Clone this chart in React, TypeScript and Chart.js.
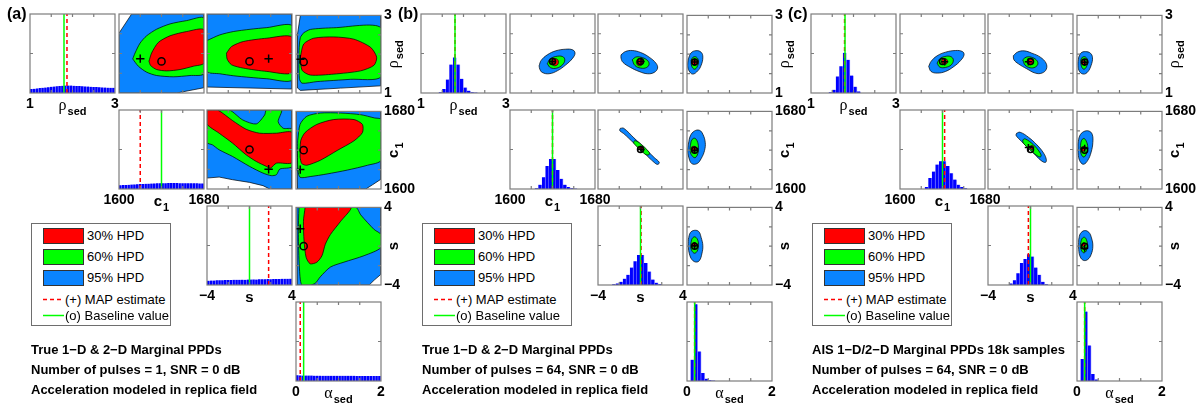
import React, { useEffect, useRef } from 'react';
import { Chart, registerables } from 'chart.js';

Chart.register(...registerables);

// ---------------- parameters ----------------
const PARAM_MIN = [1, 1600, -4, 0];
const PARAM_MAX = [3, 1680, 4, 2];
const PARAM_MINOR = [[1.5, 2, 2.5], [1620, 1640, 1660], [-2, 0, 2], [0.5, 1, 1.5]];
const PARAM_NAME = ['ρ', 'c', 's', 'α'];
const PARAM_SUB = ['sed', '1', '', 'sed'];
const PARAM_GREEK = [true, false, false, true];

const BASELINE = [1.8, 1640, 0, 0.18];
const MAP_A = [1.87, 1620, 1.8, 0.1];
const MAP_B = [1.8, 1640, 0.05, 0.18];
const MAP_C = [1.79, 1642, -0.2, 0.18];

// ---------------- 1-D histograms (fraction of panel height) ----------------
const HIST_A_RHO = [0.050, 0.054, 0.058, 0.062, 0.066, 0.070, 0.074, 0.078, 0.082, 0.086, 0.089, 0.092, 0.094, 0.095, 0.094, 0.092, 0.090, 0.088, 0.085, 0.083, 0.081, 0.079, 0.077, 0.075, 0.073, 0.071, 0.069, 0.068, 0.066, 0.065];
const HIST_A_C1 = [0.048, 0.050, 0.052, 0.054, 0.056, 0.058, 0.060, 0.062, 0.064, 0.066, 0.068, 0.070, 0.071, 0.072, 0.073, 0.074, 0.074, 0.075, 0.075, 0.075, 0.075, 0.074, 0.074, 0.074, 0.073, 0.073, 0.072, 0.072, 0.071, 0.071];
const HIST_A_S = [0.055, 0.057, 0.056, 0.059, 0.060, 0.059, 0.062, 0.063, 0.062, 0.065, 0.066, 0.065, 0.068, 0.067, 0.069, 0.070, 0.071, 0.070, 0.073, 0.072, 0.074, 0.075, 0.074, 0.076, 0.077, 0.076, 0.078, 0.079, 0.078, 0.080];
const HIST_A_AL = [0.072, 0.071, 0.070, 0.070, 0.069, 0.069, 0.068, 0.068, 0.068, 0.067, 0.067, 0.067, 0.066, 0.066, 0.066, 0.066, 0.065, 0.065, 0.065, 0.065, 0.065, 0.064, 0.064, 0.064, 0.064, 0.064, 0.064, 0.063, 0.063, 0.063];

const HIST_B_RHO = [0, 0, 0, 0, 0, 0.01, 0.05, 0.17, 0.36, 0.45, 0.36, 0.18, 0.07, 0.03, 0.01, 0.005, 0, 0, 0, 0, 0, 0, 0, 0];
const HIST_B_C1 = [0, 0, 0, 0, 0, 0, 0, 0.01, 0.055, 0.15, 0.29, 0.38, 0.38, 0.24, 0.13, 0.055, 0.025, 0.01, 0.005, 0, 0, 0, 0, 0];
const HIST_B_S = [0, 0, 0, 0, 0.01, 0.02, 0.04, 0.08, 0.13, 0.22, 0.30, 0.38, 0.38, 0.28, 0.17, 0.07, 0.03, 0.01, 0, 0, 0, 0, 0, 0];
const HIST_B_AL = [0, 0.27, 0.97, 0.375, 0.10, 0.03, 0.01, 0.005, 0, 0, 0, 0, 0, 0, 0, 0, 0, 0, 0, 0, 0, 0, 0, 0];

const HIST_C_RHO = [0, 0, 0, 0, 0, 0.01, 0.04, 0.21, 0.34, 0.51, 0.42, 0.22, 0.08, 0.02, 0, 0, 0, 0, 0, 0, 0, 0, 0, 0];
const HIST_C_C1 = [0, 0, 0, 0, 0, 0, 0, 0.025, 0.14, 0.22, 0.31, 0.35, 0.35, 0.29, 0.20, 0.12, 0.055, 0.025, 0.01, 0, 0, 0, 0, 0];
const HIST_C_S = [0, 0, 0, 0, 0, 0, 0.02, 0.06, 0.15, 0.28, 0.33, 0.39, 0.36, 0.22, 0.13, 0.04, 0.01, 0, 0, 0, 0, 0, 0, 0];
const HIST_C_AL = [0, 0.28, 0.88, 0.45, 0.09, 0.02, 0, 0, 0, 0, 0, 0, 0, 0, 0, 0, 0, 0, 0, 0, 0, 0, 0, 0];

// ---------------- 2-D HPD contours [x, y] ----------------
// panel (a)
const A_C1_RHO_95 = [[1600, 1], [1600, 2.515], [1611.9, 3], [1680, 3], [1680, 1.134], [1654.3, 1], [1600, 1]];
const A_C1_RHO_60 = [[1612.9, 1.862], [1615.1, 2.012], [1619.8, 2.263], [1626.0, 2.448], [1635.4, 2.615], [1648.0, 2.749], [1663.7, 2.833], [1680, 2.891], [1680, 1.493], [1666.8, 1.443], [1651.1, 1.410], [1635.4, 1.443], [1626.0, 1.527], [1618.2, 1.678], [1612.9, 1.862]];
const A_C1_RHO_30 = [[1628.2, 1.803], [1630.7, 2.012], [1637.0, 2.280], [1648.0, 2.448], [1663.7, 2.556], [1680, 2.598], [1680, 1.761], [1670.0, 1.678], [1657.4, 1.594], [1644.9, 1.560], [1635.4, 1.594], [1629.8, 1.694], [1628.2, 1.803]];

const A_S_RHO_95 = [[-4, 1.151], [-4, 3], [4, 3], [4, 1.101], [-4, 1.151]];
const A_S_RHO_60 = [[-4, 2.328], [-2.80, 2.471], [-1.53, 2.555], [0.05, 2.613], [1.63, 2.655], [4, 2.697], [4, 1.336], [1.63, 1.361], [0.05, 1.395], [-1.53, 1.437], [-2.80, 1.487], [-4, 1.546], [-4, 2.328]];
const A_S_RHO_30 = [[-2.166, 2.008], [-1.69, 2.176], [-0.585, 2.303], [1.63, 2.387], [4, 2.412], [4, 1.521], [1.63, 1.546], [-0.585, 1.630], [-1.69, 1.714], [-2.10, 1.857], [-2.166, 2.008]];

const A_AL_RHO_95 = [[0.102, 3], [2, 3], [2, 1.185], [1.047, 1.126], [0.102, 1.067], [0.039, 1.126], [0.024, 2.092], [0.047, 2.513], [0.102, 3]];
const A_AL_RHO_60 = [[0.181, 2.555], [0.339, 2.639], [0.890, 2.681], [2, 2.681], [2, 1.420], [1.283, 1.353], [0.496, 1.294], [0.142, 1.252], [0.079, 1.378], [0.071, 2.092], [0.102, 2.429], [0.181, 2.555]];
const A_AL_RHO_30 = [[0.102, 1.924], [0.181, 2.261], [0.417, 2.412], [0.890, 2.445], [1.362, 2.387], [1.756, 2.176], [1.898, 1.924], [1.835, 1.714], [1.520, 1.571], [0.890, 1.487], [0.339, 1.462], [0.142, 1.588], [0.102, 1.924]];

const A_S_C1_95 = [[-4, 1680], [4, 1680], [4, 1600], [1.905, 1600], [1.27, 1603.4], [0, 1606.7], [-1.587, 1609.4], [-2.857, 1612.1], [-4, 1611.1], [-4, 1680]];
const A_S_C1_60 = [[-4, 1680], [-1.905, 1680], [-0.635, 1669.9], [0.635, 1665.9], [1.429, 1675.0], [1.587, 1680], [3.016, 1680], [2.698, 1668.2], [3.175, 1661.5], [4, 1660.5], [4, 1622.9], [2.857, 1620.2], [2.54, 1614.5], [2.064, 1613.5], [1.27, 1616.1], [0, 1622.9], [-1.587, 1632.9], [-2.857, 1639.7], [-3.492, 1644.7], [-4, 1647.1], [-4, 1680]];
const A_S_C1_30 = [[-4, 1680], [-3.016, 1680], [-1.587, 1669.2], [-0.317, 1660.5], [0.952, 1656.5], [2.54, 1656.5], [4, 1657.1], [4, 1626.9], [2.54, 1626.2], [1.968, 1621.2], [1.587, 1622.9], [0.635, 1627.9], [-0.317, 1634.6], [-1.587, 1646.4], [-2.857, 1656.5], [-4, 1665.9], [-4, 1680]];

const A_AL_C1_95 = [[0.01, 1680], [2, 1680], [2, 1610.1], [1.802, 1604.4], [1.643, 1600], [0.035, 1600], [0.02, 1640], [0.01, 1680]];
const A_AL_C1_60 = [[0.040, 1649.7], [0.095, 1666.6], [0.254, 1675.0], [0.571, 1678.3], [1.048, 1678.3], [1.524, 1676.6], [1.841, 1673.3], [2, 1671.6], [2, 1629.6], [1.683, 1624.5], [1.206, 1619.5], [0.730, 1615.5], [0.333, 1612.8], [0.095, 1612.1], [0.040, 1622.9], [0.040, 1649.7]];
const A_AL_C1_30 = [[0.095, 1632.9], [0.111, 1649.7], [0.214, 1658.2], [0.492, 1666.6], [0.889, 1671.6], [1.365, 1671.6], [1.563, 1666.6], [1.563, 1658.2], [1.365, 1649.7], [0.968, 1639.7], [0.571, 1629.6], [0.254, 1624.5], [0.135, 1626.2], [0.095, 1632.9]];

const A_AL_S_95 = [[0.02, 4], [2, 4], [2, -2.89], [1.841, -3.495], [1.722, -4], [0.03, -4], [0.02, 4]];
const A_AL_S_60 = [[0.095, 4], [1.405, 4], [1.524, 3.227], [1.841, 1.714], [2, 1.210], [2, -0.134], [1.603, -0.975], [1.127, -1.647], [0.810, -2.151], [0.571, -3.159], [0.452, -3.831], [0.333, -4], [0.135, -4], [0.079, -2.151], [0.056, 1.210], [0.071, 4], [0.095, 4]];
const A_AL_S_30 = [[0.214, 4], [1.286, 4], [1.048, 2.555], [0.810, 1.210], [0.690, 0.202], [0.611, -0.975], [0.492, -1.647], [0.333, -1.815], [0.238, -1.143], [0.190, 0.538], [0.175, 2.555], [0.214, 4]];

// panel (b)
const B_C1_RHO_95 = [[1627.4, 1.689], [1629.3, 1.824], [1635.1, 1.966], [1643.0, 2.067], [1652.6, 2.109], [1659.0, 2.092], [1661.2, 2.008], [1659.0, 1.882], [1652.6, 1.714], [1644.6, 1.563], [1636.7, 1.487], [1630.3, 1.521], [1628.0, 1.605], [1627.4, 1.689]];
const B_C1_RHO_60 = [[1635.1, 1.740], [1637.6, 1.857], [1643.0, 1.924], [1649.4, 1.924], [1651.6, 1.840], [1649.4, 1.714], [1644.0, 1.630], [1638.2, 1.639], [1635.1, 1.740]];
const B_C1_RHO_30 = [[1638.9, 1.782], [1639.8, 1.849], [1642.1, 1.874], [1644.6, 1.849], [1645.6, 1.782], [1644.6, 1.714], [1642.1, 1.689], [1639.8, 1.714], [1638.9, 1.782]];

const B_S_RHO_95 = [[-1.833, 1.966], [-1.418, 2.050], [-0.781, 2.076], [0.016, 2.025], [0.812, 1.908], [1.450, 1.756], [1.609, 1.630], [1.290, 1.521], [0.653, 1.487], [-0.144, 1.546], [-0.940, 1.647], [-1.642, 1.773], [-1.833, 1.882], [-1.833, 1.966]];
const B_S_RHO_60 = [[-0.781, 1.840], [-0.462, 1.908], [0.016, 1.908], [0.590, 1.840], [0.812, 1.739], [0.590, 1.647], [0.016, 1.630], [-0.526, 1.697], [-0.781, 1.840]];
const B_S_RHO_30 = [[-0.398, 1.782], [-0.303, 1.849], [-0.080, 1.874], [0.143, 1.849], [0.239, 1.782], [0.143, 1.714], [-0.080, 1.689], [-0.303, 1.714], [-0.398, 1.782]];

const B_AL_RHO_95 = [[0.032, 1.882], [0.095, 2.034], [0.214, 2.092], [0.333, 2.050], [0.373, 1.924], [0.333, 1.714], [0.254, 1.571], [0.135, 1.487], [0.048, 1.571], [0.016, 1.714], [0.032, 1.882]];
const B_AL_RHO_60 = [[0.095, 1.840], [0.143, 1.924], [0.222, 1.924], [0.270, 1.824], [0.238, 1.672], [0.175, 1.613], [0.111, 1.689], [0.095, 1.840]];
const B_AL_RHO_30 = [[0.111, 1.782], [0.127, 1.832], [0.175, 1.849], [0.222, 1.832], [0.238, 1.782], [0.222, 1.731], [0.175, 1.714], [0.127, 1.731], [0.111, 1.782]];

const B_S_C1_95 = [[-1.897, 1661.5], [-1.578, 1661.5], [-0.622, 1651.8], [0.334, 1642.0], [1.290, 1631.9], [1.769, 1626.9], [1.609, 1624.9], [1.290, 1626.9], [0.334, 1636.6], [-0.622, 1646.4], [-1.578, 1656.1], [-1.960, 1659.2], [-1.897, 1661.5]];
const B_S_C1_60 = [[-0.526, 1649.1], [-0.144, 1647.1], [0.812, 1637.3], [0.781, 1634.6], [0.430, 1635.3], [-0.526, 1645.0], [-0.654, 1647.4], [-0.526, 1649.1]];
const B_S_C1_30 = [[-0.112, 1641.3], [-0.048, 1643.0], [0.079, 1643.4], [0.207, 1643.0], [0.271, 1641.3], [0.207, 1639.7], [0.079, 1639.3], [-0.048, 1639.7], [-0.112, 1641.3]];

const B_AL_C1_95 = [[0.032, 1646.4], [0.079, 1654.8], [0.175, 1659.8], [0.294, 1660.5], [0.373, 1656.5], [0.429, 1648.1], [0.413, 1639.7], [0.333, 1631.3], [0.238, 1626.2], [0.111, 1626.2], [0.040, 1632.9], [0.016, 1639.7], [0.032, 1646.4]];
const B_AL_C1_60 = [[0.079, 1644.7], [0.111, 1650.4], [0.175, 1652.4], [0.238, 1649.7], [0.270, 1643.0], [0.254, 1636.3], [0.190, 1632.3], [0.111, 1634.6], [0.071, 1639.7], [0.079, 1644.7]];
const B_AL_C1_30 = [[0.095, 1641.3], [0.111, 1643.4], [0.159, 1644.0], [0.206, 1643.4], [0.222, 1641.3], [0.206, 1639.3], [0.159, 1638.7], [0.111, 1639.3], [0.095, 1641.3]];

const B_AL_S_95 = [[0.032, 0.725], [0.079, 1.400], [0.175, 1.637], [0.278, 1.502], [0.333, 0.894], [0.373, 0.050], [0.349, -0.794], [0.294, -1.469], [0.214, -1.638], [0.119, -1.402], [0.056, -0.794], [0.032, -0.119], [0.032, 0.725]];
const B_AL_S_60 = [[0.095, 0.388], [0.127, 0.827], [0.190, 0.962], [0.254, 0.624], [0.270, 0.050], [0.238, -0.524], [0.175, -0.726], [0.111, -0.456], [0.087, -0.051], [0.095, 0.388]];
const B_AL_S_30 = [[0.111, 0.151], [0.127, 0.320], [0.167, 0.388], [0.206, 0.320], [0.222, 0.151], [0.206, -0.017], [0.167, -0.085], [0.127, -0.017], [0.111, 0.151]];

// panel (c)
const C_C1_RHO_95 = [[1627.0, 1.672], [1629.2, 1.798], [1634.9, 1.941], [1642.9, 2.034], [1652.4, 2.076], [1658.7, 2.050], [1660.3, 1.966], [1657.1, 1.824], [1650.8, 1.672], [1642.9, 1.546], [1634.9, 1.504], [1629.2, 1.546], [1627.0, 1.672]];
const C_C1_RHO_60 = [[1634.9, 1.756], [1637.5, 1.866], [1642.2, 1.924], [1647.6, 1.924], [1650.2, 1.840], [1648.3, 1.714], [1642.9, 1.647], [1637.5, 1.655], [1634.9, 1.756]];
const C_C1_RHO_30 = [[1639.0, 1.798], [1640.0, 1.857], [1641.9, 1.874], [1643.8, 1.857], [1644.8, 1.798], [1643.8, 1.739], [1641.9, 1.723], [1640.0, 1.739], [1639.0, 1.798]];

const C_S_RHO_95 = [[-1.619, 1.941], [-1.238, 2.034], [-0.603, 2.067], [0.127, 2.008], [0.921, 1.908], [1.461, 1.756], [1.492, 1.605], [1.08, 1.504], [0.445, 1.504], [-0.349, 1.613], [-1.143, 1.739], [-1.556, 1.840], [-1.619, 1.941]];
const C_S_RHO_60 = [[-0.730, 1.840], [-0.413, 1.908], [0.064, 1.908], [0.540, 1.840], [0.698, 1.739], [0.445, 1.655], [-0.032, 1.639], [-0.508, 1.706], [-0.730, 1.840]];
const C_S_RHO_30 = [[-0.317, 1.790], [-0.222, 1.849], [-0.032, 1.866], [0.159, 1.849], [0.254, 1.790], [0.159, 1.731], [-0.032, 1.714], [-0.222, 1.731], [-0.317, 1.790]];

const C_AL_RHO_95 = [[0.040, 1.924], [0.095, 2.034], [0.198, 2.067], [0.317, 2.025], [0.365, 1.908], [0.333, 1.714], [0.254, 1.546], [0.159, 1.487], [0.063, 1.546], [0.024, 1.714], [0.040, 1.924]];
const C_AL_RHO_60 = [[0.087, 1.840], [0.127, 1.924], [0.206, 1.924], [0.254, 1.824], [0.222, 1.672], [0.159, 1.613], [0.103, 1.689], [0.087, 1.840]];
const C_AL_RHO_30 = [[0.103, 1.782], [0.119, 1.824], [0.159, 1.840], [0.198, 1.824], [0.214, 1.782], [0.198, 1.739], [0.159, 1.723], [0.119, 1.739], [0.103, 1.782]];

const C_S_C1_95 = [[-1.302, 1656.5], [-0.984, 1657.5], [-0.19, 1652.4], [0.603, 1644.7], [1.238, 1636.3], [1.492, 1629.6], [1.397, 1626.9], [0.984, 1628.9], [0.286, 1636.3], [-0.508, 1644.7], [-1.143, 1651.4], [-1.365, 1654.5], [-1.302, 1656.5]];
const C_S_C1_60 = [[-0.730, 1649.7], [-0.508, 1650.8], [0.286, 1644.7], [0.921, 1636.3], [0.984, 1632.9], [0.730, 1632.9], [-0.032, 1639.7], [-0.667, 1646.4], [-0.730, 1649.7]];
const C_S_C1_30 = [[-0.063, 1642.0], [0, 1643.4], [0.127, 1644.0], [0.254, 1643.4], [0.317, 1642.0], [0.254, 1640.7], [0.127, 1640.0], [0, 1640.7], [-0.063, 1642.0]];

const C_AL_C1_95 = [[0.024, 1646.4], [0.063, 1654.8], [0.159, 1659.2], [0.278, 1659.8], [0.357, 1656.5], [0.373, 1648.1], [0.333, 1638.0], [0.254, 1629.6], [0.159, 1625.5], [0.079, 1627.9], [0.032, 1634.6], [0.024, 1646.4]];
const C_AL_C1_60 = [[0.079, 1643.0], [0.103, 1649.7], [0.159, 1652.1], [0.214, 1649.7], [0.254, 1643.0], [0.222, 1636.3], [0.159, 1632.9], [0.095, 1636.3], [0.079, 1643.0]];
const C_AL_C1_30 = [[0.087, 1641.3], [0.103, 1643.0], [0.143, 1643.7], [0.183, 1643.0], [0.198, 1641.3], [0.183, 1639.7], [0.143, 1639.0], [0.103, 1639.7], [0.087, 1641.3]];

const C_AL_S_95 = [[0.040, 0.684], [0.079, 1.299], [0.175, 1.607], [0.278, 1.436], [0.341, 0.855], [0.373, 0], [0.333, -0.855], [0.254, -1.368], [0.159, -1.470], [0.079, -1.129], [0.040, -0.342], [0.040, 0.684]];
const C_AL_S_60 = [[0.087, 0.342], [0.119, 0.786], [0.175, 0.923], [0.222, 0.684], [0.246, 0.171], [0.222, -0.445], [0.159, -0.684], [0.103, -0.411], [0.079, 0], [0.087, 0.342]];
const C_AL_S_30 = [[0.111, 0.171], [0.127, 0.305], [0.159, 0.376], [0.190, 0.305], [0.206, 0.171], [0.190, 0.034], [0.159, -0.034], [0.127, 0.034], [0.111, 0.171]];

// ---------------- text ----------------
const PANEL_LETTERS = ['(a)', '(b)', '(c)'];
const CAPTIONS_A = ['True 1−D & 2−D Marginal PPDs', 'Number of pulses = 1, SNR = 0 dB', 'Acceleration modeled in replica field'];
const CAPTIONS_B = ['True 1−D & 2−D Marginal PPDs', 'Number of pulses = 64, SNR = 0 dB', 'Acceleration modeled in replica field'];
const CAPTIONS_C = ['AIS 1−D/2−D Marginal PPDs 18k samples', 'Number of pulses = 64, SNR = 0 dB', 'Acceleration modeled in replica field'];
const LEGEND_LEVELS = ['30% HPD', '60% HPD', '95% HPD'];
const LEGEND_MAP = '(+) MAP estimate';
const LEGEND_BASE = '(o) Baseline value';

// ---------------- styling / layout ----------------
const LEVEL_COLORS = ['#0a84ff', '#00ff00', '#ff0000']; // 95, 60, 30
const HIST_COLOR = '#0000ff';
const FRAME_COLOR = '#7c7c7c';
const FONT_FAMILY = '"Liberation Sans", Arial, Helvetica, sans-serif';

const PANEL_OFFSETS = [0, 391, 781];
const COL_LEFT = [30, 119, 207, 296];
const ROW_TOP = [14, 110, 206, 302];
const BOX_W = 85;
const BOX_H = 79;
const ML = 22, MR = 46, MT = 10, MB = 32;
const CW = ML + BOX_W + MR;
const CH = MT + BOX_H + MB;
const X_AXIS_H = 24;
const Y_AXIS_W = 38;

const PANELS = [
  {
    hists: [HIST_A_RHO, HIST_A_C1, HIST_A_S, HIST_A_AL], map: MAP_A, tension: 0.25, outerTension: 0, marker: 3.6,
    contours: { '01': [A_C1_RHO_95, A_C1_RHO_60, A_C1_RHO_30], '02': [A_S_RHO_95, A_S_RHO_60, A_S_RHO_30], '03': [A_AL_RHO_95, A_AL_RHO_60, A_AL_RHO_30], '12': [A_S_C1_95, A_S_C1_60, A_S_C1_30], '13': [A_AL_C1_95, A_AL_C1_60, A_AL_C1_30], '23': [A_AL_S_95, A_AL_S_60, A_AL_S_30] },
    captions: CAPTIONS_A, legendWidth: 140,
  },
  {
    hists: [HIST_B_RHO, HIST_B_C1, HIST_B_S, HIST_B_AL], map: MAP_B, tension: 0.4, outerTension: 0.4, marker: 3,
    contours: { '01': [B_C1_RHO_95, B_C1_RHO_60, B_C1_RHO_30], '02': [B_S_RHO_95, B_S_RHO_60, B_S_RHO_30], '03': [B_AL_RHO_95, B_AL_RHO_60, B_AL_RHO_30], '12': [B_S_C1_95, B_S_C1_60, B_S_C1_30], '13': [B_AL_C1_95, B_AL_C1_60, B_AL_C1_30], '23': [B_AL_S_95, B_AL_S_60, B_AL_S_30] },
    captions: CAPTIONS_B, legendWidth: 150,
  },
  {
    hists: [HIST_C_RHO, HIST_C_C1, HIST_C_S, HIST_C_AL], map: MAP_C, tension: 0.4, outerTension: 0.4, marker: 3,
    contours: { '01': [C_C1_RHO_95, C_C1_RHO_60, C_C1_RHO_30], '02': [C_S_RHO_95, C_S_RHO_60, C_S_RHO_30], '03': [C_AL_RHO_95, C_AL_RHO_60, C_AL_RHO_30], '12': [C_S_C1_95, C_S_C1_60, C_S_C1_30], '13': [C_AL_C1_95, C_AL_C1_60, C_AL_C1_30], '23': [C_AL_S_95, C_AL_S_60, C_AL_S_30] },
    captions: CAPTIONS_C, legendWidth: 140,
  },
];

function fmtTick(v: number) {
  return v < 0 ? '\u2212' + Math.abs(v) : String(v);
}

function drawComposite(ctx: CanvasRenderingContext2D, k: number, cx: number, baseline: number) {
  const mainFont = PARAM_GREEK[k] ? '16px "Liberation Serif", "Times New Roman", serif' : `bold 15px ${FONT_FAMILY}`;
  const subFont = `bold 11px ${FONT_FAMILY}`;
  ctx.font = mainFont;
  const mw = ctx.measureText(PARAM_NAME[k]).width;
  ctx.font = subFont;
  const sw = PARAM_SUB[k] ? ctx.measureText(PARAM_SUB[k]).width + 1 : 0;
  const x0 = cx - (mw + sw) / 2;
  ctx.fillStyle = '#000';
  ctx.textAlign = 'left';
  ctx.textBaseline = 'alphabetic';
  ctx.font = mainFont;
  ctx.fillText(PARAM_NAME[k], x0, baseline);
  if (PARAM_SUB[k]) {
    ctx.font = subFont;
    ctx.fillText(PARAM_SUB[k], x0 + mw + 1, baseline + 5);
  }
}

function makeFramePlugin(xTicks: number[], yTicks: number[], xTitle: number, yTitle: number) {
  return {
    id: 'frame',
    afterDraw(chart: any) {
      const { ctx, chartArea: a, scales } = chart;
      ctx.save();
      ctx.strokeStyle = FRAME_COLOR;
      ctx.lineWidth = 1.2;
      ctx.beginPath();
      for (const v of xTicks) {
        const px = scales.x.getPixelForValue(v);
        ctx.moveTo(px, a.bottom); ctx.lineTo(px, a.bottom - 3);
        ctx.moveTo(px, a.top); ctx.lineTo(px, a.top + 3);
      }
      for (const v of yTicks) {
        const py = scales.y.getPixelForValue(v);
        ctx.moveTo(a.left, py); ctx.lineTo(a.left + 3, py);
        ctx.moveTo(a.right, py); ctx.lineTo(a.right - 3, py);
      }
      ctx.stroke();
      ctx.strokeRect(a.left, a.top, a.right - a.left, a.bottom - a.top);
      if (xTitle >= 0) drawComposite(ctx, xTitle, (a.left + a.right) / 2, a.bottom + 17);
      if (yTitle >= 0) {
        ctx.translate(a.right + 17, (a.top + a.bottom) / 2);
        ctx.rotate(-Math.PI / 2);
        drawComposite(ctx, yTitle, 0, 0);
      }
      ctx.restore();
    },
  };
}

function axisTicks(font: any) {
  return { font, color: '#000', padding: 3, maxRotation: 0, minRotation: 0, autoSkip: false, callback: (v: any) => fmtTick(Number(v)) };
}

function buildConfig(p: number, i: number, j: number) {
  const panel = PANELS[p];
  const isHist = i === j;
  const showX = isHist;
  const showY = !isHist && j === 3;
  const tickFont = { family: FONT_FAMILY, size: 14, weight: 'bold' };

  const xScale: any = {
    type: 'linear', min: PARAM_MIN[j], max: PARAM_MAX[j], offset: false, display: showX, position: 'bottom',
    grid: { display: false, drawTicks: false, offset: false }, border: { display: false },
    ticks: axisTicks(tickFont),
    afterBuildTicks: (s: any) => { s.ticks = [{ value: s.min }, { value: s.max }]; },
  };
  if (showX) xScale.afterFit = (s: any) => { s.height = X_AXIS_H; };

  const yScale: any = {
    type: 'linear', min: isHist ? 0 : PARAM_MIN[i], max: isHist ? 1 : PARAM_MAX[i], display: showY, position: 'right',
    grid: { display: false, drawTicks: false }, border: { display: false },
    ticks: axisTicks(tickFont),
    afterBuildTicks: (s: any) => { s.ticks = [{ value: s.min }, { value: s.max }]; },
  };
  if (showY) yScale.afterFit = (s: any) => { s.width = Y_AXIS_W; };

  let datasets: any[] = [];
  if (isHist) {
    const vals = panel.hists[i];
    const lo = PARAM_MIN[i];
    const bw = (PARAM_MAX[i] - PARAM_MIN[i]) / vals.length;
    datasets = [
      { type: 'line', data: [{ x: BASELINE[i], y: 0 }, { x: BASELINE[i], y: 1 }], borderColor: '#00ff00', borderWidth: 1.5, pointRadius: 0, order: 0 },
      { type: 'line', data: [{ x: panel.map[i], y: 0 }, { x: panel.map[i], y: 1 }], borderColor: '#ff0000', borderWidth: 1.5, borderDash: [4, 3], pointRadius: 0, order: 1 },
      {
        type: 'bar', data: vals.map((v, k) => ({ x: lo + (k + 0.5) * bw, y: v })),
        backgroundColor: HIST_COLOR, borderColor: 'rgba(140,140,255,0.9)', borderWidth: { left: 0, right: 0.8, top: 0, bottom: 0 },
        borderSkipped: false, barPercentage: 1, categoryPercentage: 1, order: 2,
      },
    ];
  } else {
    const polys = (panel.contours as any)[`${i}${j}`] as number[][][];
    datasets = polys.map((poly, lv) => ({
      type: 'scatter', data: poly.map(([x, y]) => ({ x, y })), showLine: true, fill: 'shape',
      backgroundColor: LEVEL_COLORS[lv], borderColor: '#000', borderWidth: 0.7, pointRadius: 0,
      tension: lv === 0 ? panel.outerTension : panel.tension, clip: 0, order: 3 - lv,
    }));
    datasets.push({
      type: 'scatter', data: [{ x: BASELINE[j], y: BASELINE[i] }], pointStyle: 'circle', pointRadius: panel.marker,
      pointBorderColor: '#000', pointBackgroundColor: 'rgba(0,0,0,0)', pointBorderWidth: 1.5, order: 0,
    });
    datasets.push({
      type: 'scatter', data: [{ x: panel.map[j], y: panel.map[i] }], pointStyle: 'cross', pointRadius: panel.marker + 0.6,
      pointBorderColor: '#000', pointBorderWidth: 1.5, order: 0,
    });
  }

  const xMinor = PARAM_MINOR[j];
  const yMinor = isHist ? [0.5] : PARAM_MINOR[i];

  return {
    type: isHist ? 'bar' : 'scatter',
    data: { datasets },
    options: {
      animation: false, responsive: false, maintainAspectRatio: false, devicePixelRatio: 1, events: [],
      layout: { padding: { left: ML, top: MT, right: showY ? MR - Y_AXIS_W : MR, bottom: showX ? MB - X_AXIS_H : MB } },
      scales: { x: xScale, y: yScale },
      plugins: { legend: { display: false }, tooltip: { enabled: false }, title: { display: false } },
    },
    plugins: [makeFramePlugin(xMinor, yMinor, isHist ? i : -1, showY ? i : -1)],
  };
}

function Subplot({ p, i, j }: { p: number; i: number; j: number }) {
  const ref = useRef<HTMLCanvasElement | null>(null);
  useEffect(() => {
    const chart = new Chart(ref.current as HTMLCanvasElement, buildConfig(p, i, j) as any);
    return () => chart.destroy();
  }, [p, i, j]);
  return (
    <canvas
      ref={ref}
      width={CW}
      height={CH}
      style={{ position: 'absolute', left: PANEL_OFFSETS[p] + COL_LEFT[j] - ML, top: ROW_TOP[i] - MT, width: CW, height: CH }}
    />
  );
}

function Legend({ left, width }: { left: number; width: number }) {
  const textStyle: React.CSSProperties = { position: 'absolute', fontFamily: FONT_FAMILY, fontSize: 13, lineHeight: '16px', whiteSpace: 'nowrap', color: '#000' };
  return (
    <div style={{ position: 'absolute', left, top: 223, width, height: 103, border: '1px solid #6e6e6e', boxSizing: 'border-box', background: '#fff' }}>
      {LEGEND_LEVELS.map((t, k) => (
        <React.Fragment key={t}>
          <div style={{ position: 'absolute', left: 11, top: 4 + k * 21, width: 41, height: 16, boxSizing: 'border-box', border: '1px solid #333', background: LEVEL_COLORS[2 - k] }} />
          <div style={{ ...textStyle, left: 55, top: 4 + k * 21 }}>{t}</div>
        </React.Fragment>
      ))}
      <svg style={{ position: 'absolute', left: 11, top: 68, overflow: 'visible' }} width={24} height={30}>
        <line x1={0} y1={7.5} x2={21} y2={7.5} stroke="#ff0000" strokeWidth={1.5} strokeDasharray="4 3" />
        <line x1={0} y1={23.5} x2={21} y2={23.5} stroke="#00ff00" strokeWidth={1.5} />
      </svg>
      <div style={{ ...textStyle, left: 33, top: 67.5 }}>{LEGEND_MAP}</div>
      <div style={{ ...textStyle, left: 33, top: 83.5 }}>{LEGEND_BASE}</div>
    </div>
  );
}

export default function App() {
  const subplots: { p: number; i: number; j: number }[] = [];
  for (let p = 0; p < 3; p++) for (let i = 0; i < 4; i++) for (let j = i; j < 4; j++) subplots.push({ p, i, j });
  return (
    <div style={{ position: 'absolute', left: 0, top: 0, width: 1203, height: 409, background: '#fff', overflow: 'hidden' }}>
      {subplots.map((s) => <Subplot key={`${s.p}-${s.i}-${s.j}`} p={s.p} i={s.i} j={s.j} />)}
      {PANELS.map((panel, p) => (
        <React.Fragment key={p}>
          <div style={{ position: 'absolute', left: PANEL_OFFSETS[p] + 7, top: 6, fontFamily: FONT_FAMILY, fontWeight: 'bold', fontSize: 16, lineHeight: '16px', whiteSpace: 'nowrap' }}>{PANEL_LETTERS[p]}</div>
          <Legend left={PANEL_OFFSETS[p] + 31} width={panel.legendWidth} />
          {panel.captions.map((c, k) => (
            <div key={k} style={{ position: 'absolute', left: PANEL_OFFSETS[p] + 31, top: 340 + 20 * k, fontFamily: FONT_FAMILY, fontWeight: 'bold', fontSize: 13, lineHeight: '20px', whiteSpace: 'nowrap' }}>{c}</div>
          ))}
        </React.Fragment>
      ))}
    </div>
  );
}
